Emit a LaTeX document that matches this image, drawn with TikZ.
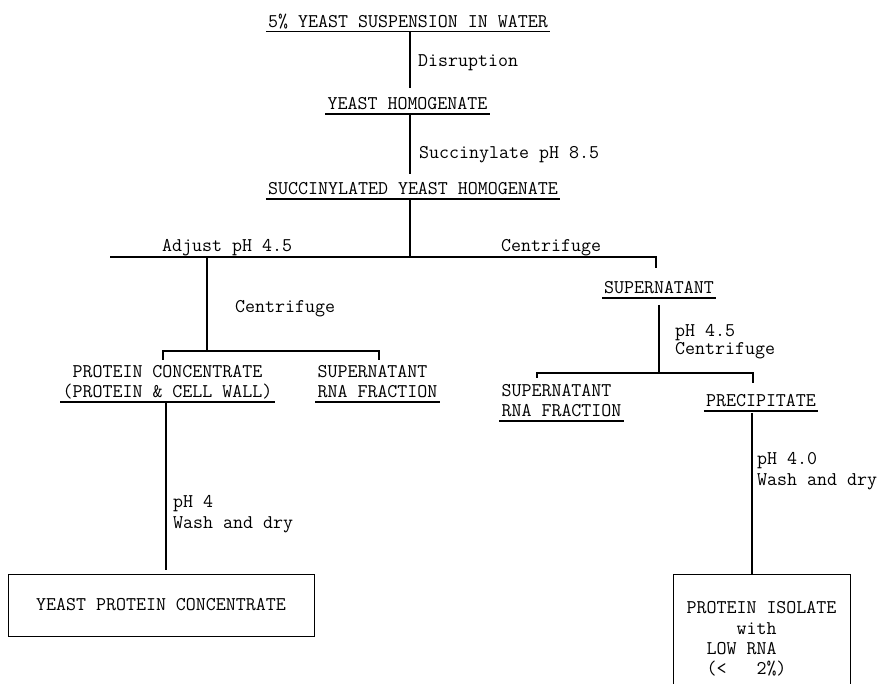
\documentclass[tikz,border=0pt]{standalone}
\usepackage{fontspec}
\begin{document}
\begin{tikzpicture}[x=1pt,y=-1pt,
  ln/.style={line width=1.1pt, line cap=butt},
  tw/.style={font=\fontsize{19.4}{20.3}\selectfont\ttfamily},
  ul/.style={tw, anchor=south, inner xsep=2pt, inner ysep=0pt, text depth=4pt,
    append after command={(\tikzlastnode.south west) edge[ln] (\tikzlastnode.south east)}},
  lab/.style={tw, anchor=west, inner sep=0pt},
  boxst/.style={tw, draw, line width=1pt, inner sep=0pt}]
\useasboundingbox (0,0) rectangle (881,684);
\fill[white] (0,0) rectangle (881,684);
\clip (0,0) rectangle (881,684);

% main stages
\node[ul] (s0) at (408,31.5) {5\% YEAST SUSPENSION IN WATER};
\node[ul] (s1) at (407.5,114) {YEAST HOMOGENATE};
\node[ul] (s2) at (413,199) {SUCCINYLATED YEAST HOMOGENATE};
\node[ul,align=center] (pc) at (167.5,402) {PROTEIN CONCENTRATE\\(PROTEIN \& CELL WALL)};
\node[ul,align=left] (rna1) at (377.5,402) {SUPERNATANT\\RNA FRACTION};
\node[ul] (sup) at (659,298) {SUPERNATANT};
\node[ul,align=left] (rna2) at (561.5,421) {SUPERNATANT\\RNA FRACTION};
\node[ul] (prec) at (761,411) {PRECIPITATE};

% boxes
\node[boxst, minimum width=306pt, minimum height=62pt] (ypc) at (161,605) {YEAST PROTEIN CONCENTRATE};
\node[boxst, minimum width=177pt, minimum height=130pt, align=left] (pi) at (761.5,639)
  {PROTEIN ISOLATE\\\hphantom{00000}with\\\hphantom{00}LOW RNA\\\hphantom{00}(<\hphantom{000}2\%)};

% step labels
\node[lab] (l1) at (418,63) {Disruption};
\node[lab] (l2) at (419,155) {Succinylate pH 8.5};
\node[lab] (l3) at (162,248) {Adjust pH 4.5};
\node[lab] (l4) at (501,248) {Centrifuge};
\node[lab] (l5) at (235,309) {Centrifuge};
\node[lab,align=left] (l6) at (675,342) {pH 4.5\\[-2pt]Centrifuge};
\node[lab,align=left] (l7) at (173,514) {pH 4\\Wash and dry};
\node[lab,align=left] (l8) at (757,471) {pH 4.0\\Wash and dry};

% junction coordinates
\coordinate (cx) at (410,0);
\coordinate (j0) at (410,257);
\coordinate (lend) at (110,257);
\coordinate (jl) at (207,257);
\coordinate (rcorner) at (656,257);
\coordinate (rtick) at (656,268);
\coordinate (bl) at (207,351);
\coordinate (bla) at (163,360);
\coordinate (blb) at (163,351);
\coordinate (blc) at (379,351);
\coordinate (bld) at (379,360);
\coordinate (px) at (166,0);
\coordinate (sx) at (659,0);
\coordinate (br) at (659,373);
\coordinate (bra) at (537,378);
\coordinate (brb) at (537,373);
\coordinate (brc) at (753,373);
\coordinate (brd) at (753,383);
\coordinate (qx) at (752,0);

% connectors
\draw[ln, shorten >=9pt] (s0.south -| cx) -- (s1.north -| cx);
\draw[ln, shorten >=8pt] (s1.south -| cx) -- (s2.north -| cx);
\draw[ln] (s2.south -| cx) -- (j0);
\draw[ln] (lend) -- (rcorner) -- (rtick);
\draw[ln] (jl) -- (bl);
\draw[ln] (bla) -- (blb) -- (blc) -- (bld);
\draw[ln, shorten >=4pt] (pc.south -| px) -- (ypc.north -| px);
\draw[ln, shorten <=7pt] (sup.south -| sx) -- (br);
\draw[ln] (bra) -- (brb) -- (brc) -- (brd);
\draw[ln, shorten <=2pt] (prec.south -| qx) -- (pi.north -| qx);
\end{tikzpicture}
\end{document}
